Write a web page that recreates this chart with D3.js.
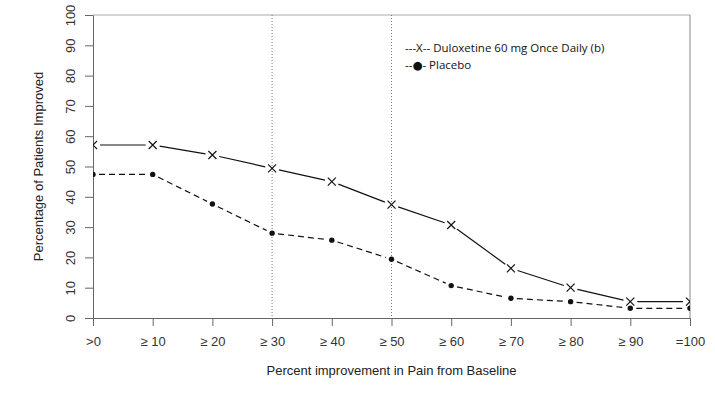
<!DOCTYPE html>
<html><head><meta charset="utf-8">
<script src="https://cdn.jsdelivr.net/npm/d3@7"></script>
<style>body{margin:0;background:#fff}svg{display:block}</style>
</head><body>
<script>
const categories = [">0","\u2265 10","\u2265 20","\u2265 30","\u2265 40","\u2265 50","\u2265 60","\u2265 70","\u2265 80","\u2265 90","=100"];
const duloxetine = [57.1, 57.1, 53.8, 49.4, 45.0, 37.4, 30.7, 16.4, 10.0, 5.4, 5.4];
const placebo = [47.4, 47.4, 37.6, 28.0, 25.7, 19.4, 10.7, 6.5, 5.4, 3.2, 3.2];
const yTicks = [0,10,20,30,40,50,60,70,80,90,100];
const refLines = ["\u2265 30","\u2265 50"];

const W = 715, H = 395;
const L = 93, R = 690, T = 15, B = 318;
const svg = d3.select("body").append("svg").attr("width", W).attr("height", H);
const font = "'Liberation Sans', Arial, sans-serif";

const x = d3.scalePoint().domain(categories).range([L, R]);
const y = d3.scaleLinear().domain([0, 100]).range([B, T]);

// box top/right
svg.append("line").attr("x1", L).attr("x2", R).attr("y1", T).attr("y2", T).attr("stroke", "#aaa");
svg.append("line").attr("x1", R).attr("x2", R).attr("y1", T).attr("y2", B).attr("stroke", "#888");

// reference dotted lines
refLines.forEach(c => {
  svg.append("line").attr("x1", x(c)).attr("x2", x(c)).attr("y1", T).attr("y2", B)
    .attr("stroke", "#777").attr("stroke-dasharray", "1,2");
});

// axes
const yAxis = svg.append("g").attr("transform", `translate(${L},0)`)
  .call(d3.axisLeft(y).tickValues(yTicks).tickSize(8).tickSizeOuter(0));
yAxis.select(".domain").attr("stroke", "#666");
yAxis.selectAll(".tick line").attr("stroke", "#666");
yAxis.selectAll(".tick text").attr("font-family", font).attr("font-size", 13).attr("fill", "#333")
  .attr("x", 0).attr("y", 0).attr("dy", "0.35em").attr("text-anchor", "middle")
  .attr("transform", "translate(-23,0) rotate(-90)");

const xAxis = svg.append("g").attr("transform", `translate(0,${B})`)
  .call(d3.axisBottom(x).tickSize(8).tickSizeOuter(0));
xAxis.select(".domain").attr("stroke", "#666");
xAxis.selectAll(".tick line").attr("stroke", "#666");
xAxis.selectAll(".tick text").attr("font-family", font).attr("font-size", 13).attr("fill", "#333").attr("dy", "1.3em");

// titles
svg.append("text").attr("x", (L + R) / 2).attr("y", 375).attr("text-anchor", "middle")
  .attr("font-family", font).attr("font-size", 13).attr("fill", "#222")
  .text("Percent improvement in Pain from Baseline");
svg.append("text").attr("transform", `translate(43,${(T + B) / 2}) rotate(-90)`).attr("text-anchor", "middle")
  .attr("font-family", font).attr("font-size", 13).attr("fill", "#222")
  .text("Percentage of Patients Improved");

// clip
svg.append("clipPath").attr("id", "clip").append("rect").attr("x", L).attr("y", T).attr("width", R - L).attr("height", B - T);
const plot = svg.append("g").attr("clip-path", "url(#clip)");

function gapSegments(vals, gap) {
  const pts = vals.map((v, i) => [x(categories[i]), y(v)]);
  const segs = [];
  for (let i = 0; i < pts.length - 1; i++) {
    const [x1, y1] = pts[i], [x2, y2] = pts[i + 1];
    const dx = x2 - x1, dy = y2 - y1, len = Math.hypot(dx, dy);
    const ux = dx / len, uy = dy / len;
    segs.push([x1 + ux * gap, y1 + uy * gap, x2 - ux * gap, y2 - uy * gap]);
  }
  return segs;
}

plot.selectAll(".dl").data(gapSegments(duloxetine, 7)).join("line")
  .attr("x1", d => d[0]).attr("y1", d => d[1]).attr("x2", d => d[2]).attr("y2", d => d[3])
  .attr("stroke", "#111").attr("stroke-width", 1.2);
plot.selectAll(".pl").data(gapSegments(placebo, 6)).join("line")
  .attr("x1", d => d[0]).attr("y1", d => d[1]).attr("x2", d => d[2]).attr("y2", d => d[3])
  .attr("stroke", "#111").attr("stroke-width", 1.2).attr("stroke-dasharray", "6,4");

const s = 4;
plot.selectAll(".xm").data(duloxetine).join("path")
  .attr("d", (d, i) => { const cx = x(categories[i]), cy = y(d);
    return `M${cx - s},${cy - s}L${cx + s},${cy + s}M${cx - s},${cy + s}L${cx + s},${cy - s}`; })
  .attr("stroke", "#111").attr("stroke-width", 1.2).attr("fill", "none");
plot.selectAll(".cm").data(placebo).join("circle")
  .attr("cx", (d, i) => x(categories[i])).attr("cy", d => y(d)).attr("r", 2.7).attr("fill", "#111");

// legend
const lf = "'Open Sans', 'DejaVu Sans', sans-serif";
svg.append("text").attr("x", 405).attr("y", 52).attr("font-family", lf).attr("font-size", 11.5).attr("fill", "#111")
  .text("---X-- Duloxetine 60 mg Once Daily (b)");
svg.append("text").attr("x", 405).attr("y", 69).attr("font-family", lf).attr("font-size", 11.5).attr("fill", "#111")
  .text("--\u25CF- Placebo");
</script>
</body></html>
